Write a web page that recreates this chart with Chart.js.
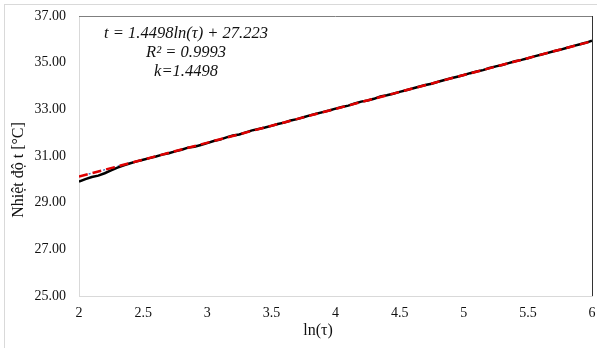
<!DOCTYPE html>
<html>
<head>
<meta charset="utf-8">
<script src="https://cdn.jsdelivr.net/npm/chart.js@4"></script>
<style>
html,body{margin:0;padding:0;background:#fff;}
#wrap{position:relative;width:597px;height:348px;}
</style>
</head>
<body>
<div id="wrap"><canvas id="c" width="597" height="348"></canvas></div>
<script>
const lnTau = [2.00,2.05,2.10,2.15,2.20,2.25,2.30,2.35,2.40,2.45,2.50,2.55,2.60,2.65,2.70,2.75,2.80,2.85,2.90,2.95,
3.00,3.05,3.10,3.15,3.20,3.25,3.30,3.35,3.40,3.45,3.50,3.55,3.60,3.65,3.70,3.75,3.80,3.85,3.90,3.95,
4.00,4.05,4.10,4.15,4.20,4.25,4.30,4.35,4.40,4.45,4.50,4.55,4.60,4.65,4.70,4.75,4.80,4.85,4.90,4.95,
5.00,5.05,5.10,5.15,5.20,5.25,5.30,5.35,5.40,5.45,5.50,5.55,5.60,5.65,5.70,5.75,5.80,5.85,5.90,5.95,6.00];
const temperature = [29.90,30.01,30.10,30.16,30.26,30.38,30.50,30.60,30.69,30.77,30.84,30.91,30.98,31.06,31.12,31.20,31.27,31.36,31.40,31.47,
31.55,31.64,31.70,31.80,31.88,31.92,32.01,32.10,32.16,32.22,32.29,32.37,32.43,32.52,32.58,32.66,32.74,32.81,32.88,32.95,
33.03,33.10,33.16,33.25,33.33,33.38,33.45,33.55,33.60,33.67,33.75,33.82,33.89,33.97,34.04,34.10,34.18,34.26,34.33,34.40,
34.47,34.55,34.62,34.68,34.77,34.84,34.90,34.98,35.06,35.12,35.19,35.27,35.34,35.41,35.49,35.55,35.63,35.71,35.78,35.85,35.94];
const trendX = [2, 6];
const trendY = [30.12, 35.92];
const equationLines = ["t = 1.4498ln(τ) + 27.223", "R² = 0.9993", "k=1.4498"];
const yTitle = "Nhiệt độ t [°C]";
const xTitle = "ln(τ)";

const toXY = (xs, ys) => xs.map((x, i) => ({x: x, y: ys[i]}));
const serif = "'Liberation Serif', 'Times New Roman', serif";

const decor = {
  id: 'decor',
  beforeDraw(chart) {
    const ctx = chart.ctx;
    ctx.save();
    ctx.fillStyle = '#fff';
    ctx.fillRect(0, 0, chart.width, chart.height);
    ctx.strokeStyle = '#d9d9d9';
    ctx.lineWidth = 1;
    ctx.strokeRect(4.5, 4.5, 620, 360);
    ctx.restore();
  },
  afterDraw(chart) {
    const ctx = chart.ctx, a = chart.chartArea;
    ctx.save();
    ctx.lineWidth = 1;
    ctx.strokeStyle = '#7f7f7f';
    ctx.beginPath(); ctx.moveTo(a.left, a.top + 0.5); ctx.lineTo(a.right, a.top + 0.5); ctx.stroke();
    ctx.strokeStyle = '#333';
    ctx.beginPath(); ctx.moveTo(a.right + 0.5, a.top); ctx.lineTo(a.right + 0.5, a.bottom); ctx.stroke();
    ctx.fillStyle = '#111';
    ctx.textAlign = 'center';
    ctx.textBaseline = 'middle';
    ctx.font = "italic 16.5px " + serif;
    const ys = [34, 53, 72];
    equationLines.forEach((t, i) => ctx.fillText(t, 186, ys[i]));
    ctx.font = "16px " + serif;
    ctx.fillText(xTitle, 318, 331);
    ctx.translate(19, 170);
    ctx.rotate(-Math.PI / 2);
    ctx.fillText(yTitle, 0, 0);
    ctx.restore();
  }
};

new Chart(document.getElementById('c'), {
  type: 'scatter',
  data: {
    datasets: [
      {
        label: 'trend',
        data: toXY(trendX, trendY),
        showLine: true,
        borderColor: '#e00000',
        borderWidth: 2.5,
        borderDash: [9, 5],
        pointRadius: 0,
        order: 0
      },
      {
        label: 'data',
        data: toXY(lnTau, temperature),
        showLine: true,
        borderColor: '#000',
        borderWidth: 2.5,
        pointRadius: 0,
        tension: 0,
        order: 1
      },
      {
        label: 'dotted',
        data: toXY(trendX, trendY),
        showLine: true,
        borderColor: '#4472c4',
        borderWidth: 1.5,
        borderDash: [2, 3],
        pointRadius: 0,
        order: 2
      }
    ]
  },
  options: {
    responsive: false,
    animation: false,
    events: [],
    layout: {padding: {left: 0, top: 16, right: 5, bottom: 0}},
    plugins: {legend: {display: false}, tooltip: {enabled: false}},
    scales: {
      x: {
        type: 'linear', min: 2, max: 6,
        afterFit(s) { s.height = 52; s.paddingLeft = 0; s.paddingRight = 0; },
        grid: {display: false, drawTicks: false},
        border: {display: true, color: '#d9d9d9', width: 1},
        ticks: {stepSize: 0.5, padding: 9, color: '#111', font: {family: serif, size: 14},
          autoSkip: false, maxRotation: 0, callback: v => String(Number(v))}
      },
      y: {
        type: 'linear', min: 25, max: 37,
        afterFit(s) { s.width = 79; s.paddingTop = 0; s.paddingBottom = 0; },
        grid: {display: false, drawTicks: false},
        border: {display: true, color: '#d9d9d9', width: 1},
        ticks: {stepSize: 2, padding: 13, color: '#111', font: {family: serif, size: 14},
          callback: v => Number(v).toFixed(2)}
      }
    }
  },
  plugins: [decor]
});
</script>
</body>
</html>
